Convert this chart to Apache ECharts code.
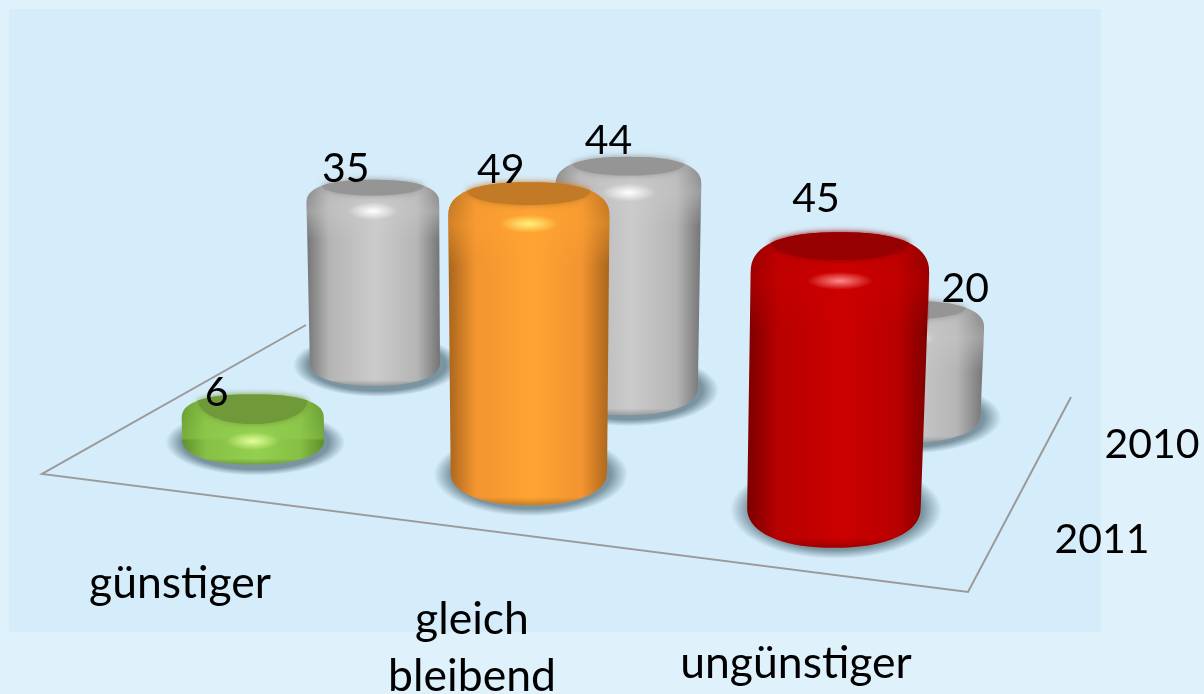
<!DOCTYPE html>
<html>
<head>
<meta charset="utf-8">
<style>
  html, body { margin: 0; padding: 0; background: #dff1fb; }
  #chart { width: 1204px; height: 694px; }
</style>
<script src="https://cdn.jsdelivr.net/npm/echarts@6/dist/echarts.min.js"></script>
</head>
<body>
<div id="chart"></div>
<script>
// ----- Data -----
const categories = ['günstiger', 'gleich\nbleibend', 'ungünstiger'];
const years = ['2010', '2011'];
const values2010 = [35, 44, 20];
const values2011 = [6, 49, 45];

// ----- Layout (floor plane in pixels, everything else is projected on it) -----
const FONT = 'Lato, "Open Sans", sans-serif';
const GRID = { left: 100, top: 30, width: 900, height: 505 };
const floorFL = [42, 474], floorFR = [968, 592], floorBR = [1071, 397], floorBL = [306, 325];
const yearDepth = [0.79, 0.28];     // position of each year row on the floor
const yearScale = [0.96, 1.08];     // front row is closer, so taller
const BEVEL_VALUE = 2;              // the rounded ends eat a bit of the height
const U_SHIFT = -0.003;
const HALF_WIDTH = 0.09;            // cylinder half width, floor units
// ry / rx of the cylinder ellipses, differs with the view angle
const flatness2010 = [0.35, 0.38, 0.35];
const flatness2011 = [0.34, 0.42, 0.46];
// value label offset from the cylinder's top centre, placed by hand in the original
const labelOffset2010 = [[-27, -34], [-20, -44], [60, -40]];
const labelOffset2011 = [[-36, -26], [-28, -46], [-24, -75]];
const categoryLabelPos = [[180, 584], [472, 648], [796, 664]];
const yearLabelPos = [[1152, 445], [1102, 540]];

// colours: edge, side, centre, face, highlight
const GREY = ['#747474', '#b5b5b5', '#cbcbcb', '#959595', '#ffffff'];
const palette2010 = [GREY, GREY, GREY];
const palette2011 = [
  ['#5f8f2c', '#86c044', '#93d050', '#70993a', '#e4ff9a'],
  ['#a9651c', '#f29430', '#ffa433', '#c27a26', '#fff27a'],
  ['#7c0000', '#b80000', '#cc0000', '#960000', '#ff8a8a']
];

// ----- Helpers -----
// unit square -> floor quad
function makeFloorProjection(p0, p1, p2, p3) {
  const sx = p0[0] - p1[0] + p2[0] - p3[0];
  const sy = p0[1] - p1[1] + p2[1] - p3[1];
  const dx1 = p1[0] - p2[0], dx2 = p3[0] - p2[0];
  const dy1 = p1[1] - p2[1], dy2 = p3[1] - p2[1];
  const den = dx1 * dy2 - dx2 * dy1;
  const g = (sx * dy2 - dx2 * sy) / den;
  const h = (dx1 * sy - sx * dy1) / den;
  const a = p1[0] - p0[0] + g * p1[0], b = p3[0] - p0[0] + h * p3[0];
  const d = p1[1] - p0[1] + g * p1[1], e = p3[1] - p0[1] + h * p3[1];
  return (u, v) => {
    const w = g * u + h * v + 1;
    return [(a * u + b * v + p0[0]) / w, (d * u + e * v + p0[1]) / w];
  };
}
const project = makeFloorProjection(floorFL, floorFR, floorBR, floorBL);

function hGrad(stops) {
  return new echarts.graphic.LinearGradient(0, 0, 1, 0, stops);
}

function vGrad(stops) {
  return new echarts.graphic.LinearGradient(0, 0, 0, 1, stops);
}

function softSpot(cx, cy, rx, ry, color, solid, opacity) {
  return {
    type: 'circle', silent: true, x: cx, y: cy, scaleY: ry / rx,
    shape: { cx: 0, cy: 0, r: rx },
    style: {
      opacity,
      fill: new echarts.graphic.RadialGradient(0.5, 0.5, 0.5, [
        { offset: 0, color }, { offset: solid, color },
        { offset: 1, color: echarts.color.modifyAlpha(color, 0) }
      ])
    }
  };
}

function sideStops(c) {
  return [
    { offset: 0, color: c[0] }, { offset: 0.17, color: c[1] },
    { offset: 0.52, color: c[2] }, { offset: 0.83, color: c[1] },
    { offset: 1, color: c[0] }
  ];
}

// rounded outline (superellipse) so the shoulders look bevelled
function arc(cx, cy, rx, ry, from, to, n, pow) {
  const pts = [];
  const e = 2 / (pow || 2);
  for (let i = 0; i <= n; i++) {
    const t = from + (to - from) * i / n;
    const c = Math.cos(t), s = Math.sin(t);
    pts.push([
      cx + rx * Math.sign(c) * Math.pow(Math.abs(c), e),
      cy + ry * Math.sign(s) * Math.pow(Math.abs(s), e)
    ]);
  }
  return pts;
}

// draws one cylinder standing on floor point (u, v)
function cylinder(u, v, h, colors, flat, labelText, labelOff) {
  const base = project(u, v);
  const r = Math.abs(project(u + HALF_WIDTH, v)[0] - project(u - HALF_WIDTH, v)[0]) / 2;
  const ry = r * flat;
  // verticals lean outwards and the top is a bit closer to the camera
  const tx = base[0] + (base[0] - 530) * 8.4e-5 * h;
  const ty = base[1] - h;
  const tr = r * (1 + 1.2e-4 * h);
  const tRy = ry * (1 + 1.2e-4 * h);
  const POW = 2.5;

  const bodyPts = arc(tx, ty, tr, tRy, Math.PI, 2 * Math.PI, 36, POW)
    .concat(arc(base[0], base[1], r, ry, 0, Math.PI, 36, 2.2));

  // dark cap: lower arc of a flat ellipse closed by the top outline
  const fr = 0.77;
  const fy = ty - tRy * Math.pow(1 - Math.pow(fr, POW), 1 / POW);
  // short cylinders show more of their cap
  const fry = 0.42 * tRy + Math.max(0, (60 - h) * 0.35);
  const facePts = arc(tx, fy, tr * fr, fry, 0, Math.PI, 24);
  for (let i = 0; i <= 24; i++) {
    const dx = -fr + 2 * fr * i / 24;
    facePts.push([tx + tr * dx, ty - tRy * Math.pow(1 - Math.pow(Math.abs(dx), POW), 1 / POW)]);
  }
  const faceBottom = fy + fry;
  const glowY = faceBottom + 0.24 * r;

  // lighter band around the shoulder, fades out flat so it leaves no edge on the side
  const bandBottom = Math.min(ty + tRy + 0.2 * r, base[1]);
  const bandPts = arc(tx, ty, tr, tRy, Math.PI, 2 * Math.PI, 36, POW)
    .concat([[tx + tr, bandBottom], [tx - tr, bandBottom]]);
  const bandTop = ty - tRy, bandH = bandBottom - bandTop;
  const pos = y => Math.min(0.95, Math.max(0.05, (y - bandTop) / bandH));

  // darker rim on the floor
  const rimPts = arc(base[0], base[1], r, ry, 0, Math.PI, 36, 2.2);

  const children = [
    softSpot(base[0] + 2, base[1] + 2, r + 19, ry + 9, '#7a94a2', 0.82, 1),
    { type: 'polygon', silent: true, shape: { points: bodyPts },
      style: { fill: hGrad(sideStops(colors)) } },
    { type: 'polygon', silent: true, shape: { points: rimPts },
      style: { fill: vGrad([
        { offset: 0, color: 'rgba(0,0,0,0)' }, { offset: 0.75, color: 'rgba(0,0,0,0)' },
        { offset: 1, color: 'rgba(0,0,0,0.22)' }
      ]) } },
    { type: 'polygon', silent: true, shape: { points: bandPts },
      style: { fill: vGrad([
        { offset: 0, color: echarts.color.modifyAlpha(colors[2], 0.15) },
        { offset: pos(glowY), color: echarts.color.modifyAlpha(colors[2], 0.45) },
        { offset: 1, color: echarts.color.modifyAlpha(colors[2], 0) }
      ]) } },
    { type: 'polygon', silent: true, shape: { points: facePts },
      style: { fill: colors[3], shadowBlur: 6, shadowColor: colors[3] } },
    softSpot(tx, glowY, 0.38 * r, 9, colors[4], 0.05, 0.95),
    { type: 'text', silent: true,
      style: {
        text: String(labelText), x: tx + labelOff[0], y: ty + labelOff[1],
        fill: '#000', fontSize: 41, fontFamily: FONT,
        align: 'center', verticalAlign: 'middle'
      } }
  ];
  return { type: 'group', children };
}

function yearSeries(name, rowIndex, values, palette, flatness, offsets) {
  return {
    name,
    type: 'custom',
    clip: false,
    silent: true,
    encode: { x: 0, y: 1 },
    data: values.map((v, i) => [i, v]),
    renderItem: (params, api) => {
      const i = api.value(0);
      const val = api.value(1);
      const u = (api.coord([i, 0])[0] - GRID.left) / GRID.width + U_SHIFT;
      const h = api.size([0, val - BEVEL_VALUE])[1] * yearScale[rowIndex];
      return cylinder(u, yearDepth[rowIndex], h, palette[i], flatness[i], val, offsets[i]);
    }
  };
}

function textEl(text, pos, fontSize) {
  return {
    type: 'text', silent: true, z: 5, x: pos[0], y: pos[1],
    style: {
      text, fill: '#000', fontSize, lineHeight: 57, fontFamily: FONT,
      align: 'center', verticalAlign: 'middle'
    }
  };
}

// ----- Chart -----
const chart = echarts.init(document.getElementById('chart'));
chart.setOption({
  animation: false,
  backgroundColor: '#dff1fb',
  grid: GRID,
  xAxis: { type: 'category', data: categories, show: false },
  yAxis: { type: 'value', min: 0, max: 100, show: false },
  graphic: [
    { type: 'rect', silent: true, z: -10,
      shape: { x: 9, y: 9, width: 1092, height: 623 },
      style: { fill: '#d5edfa' } },
    { type: 'polyline', silent: true, z: -9,
      shape: { points: [floorBL, floorFL, floorFR, floorBR] },
      style: { fill: 'none', stroke: '#9a9a9a', lineWidth: 2 } }
  ].concat(
    categories.map((c, i) => textEl(c, categoryLabelPos[i], 44.5)),
    years.map((y, i) => textEl(y, yearLabelPos[i], 41))
  ),
  series: [
    yearSeries(years[0], 0, values2010, palette2010, flatness2010, labelOffset2010),
    yearSeries(years[1], 1, values2011, palette2011, flatness2011, labelOffset2011)
  ]
});
</script>
</body>
</html>
